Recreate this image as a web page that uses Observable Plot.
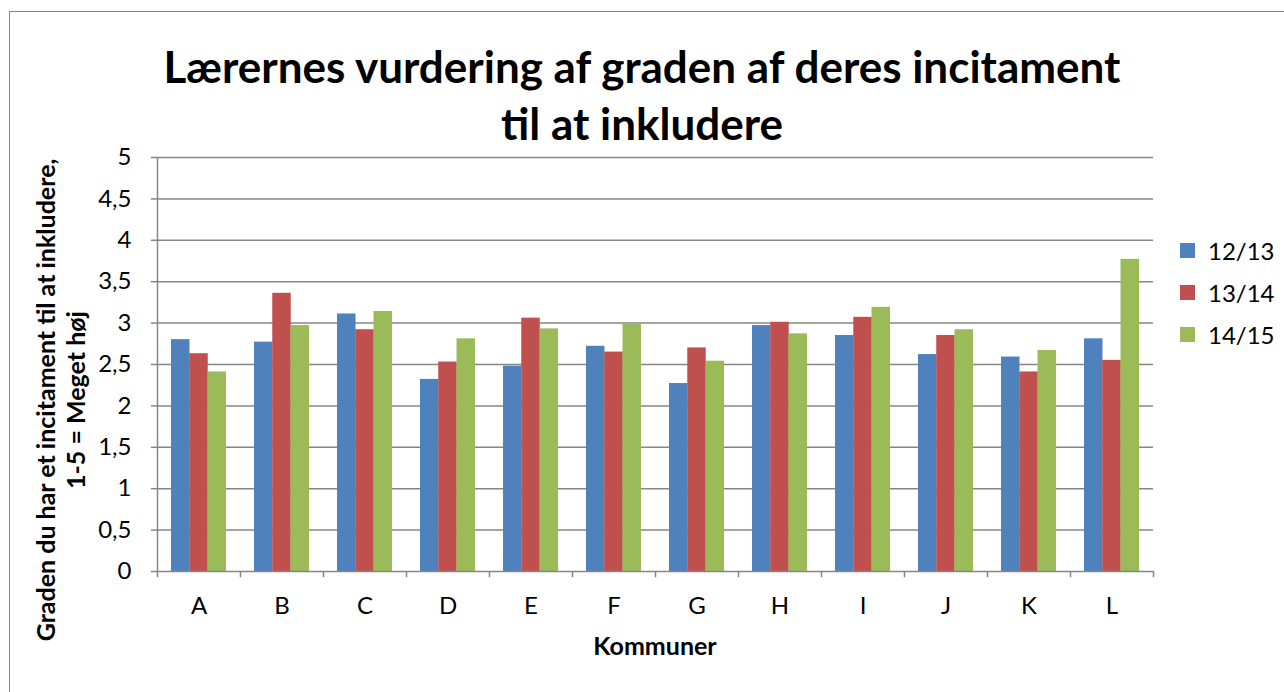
<!DOCTYPE html>
<html>
<head>
<meta charset="utf-8">
<script src="https://cdn.jsdelivr.net/npm/d3@7"></script>
<script src="https://cdn.jsdelivr.net/npm/@observablehq/plot@0.6"></script>
<style>
  html, body { margin: 0; padding: 0; background: #fff; }
  #wrap { position: relative; width: 1284px; height: 692px; overflow: hidden; font-family: Lato, "Open Sans", sans-serif; }
  #border { position: absolute; left: 9px; top: 11px; width: 1300px; height: 700px; border: 1.5px solid #868686; box-sizing: border-box; }
  #title { position: absolute; left: 0; width: 1284px; top: 38px; text-align: center; font-weight: bold; font-size: 44px; line-height: 57px; color: #000; }
  #ylabel { position: absolute; left: 60px; top: 400px; transform: translate(-50%, -50%) rotate(-90deg); text-align: center; font-weight: bold; font-size: 25px; line-height: 30px; white-space: nowrap; }
  #xlabel { position: absolute; left: 655px; top: 645px; transform: translate(-50%, -50%); font-weight: bold; font-size: 25px; }
  #legend { position: absolute; left: 1180px; top: 229px; font-size: 24px; }
  .li { display: flex; align-items: center; height: 42px; }
  .sw { width: 15px; height: 15px; margin-right: 13px; }
  #chart { position: absolute; left: 0; top: 0; }
</style>
</head>
<body>
<div id="wrap">
  <div id="border"></div>
  <div id="chart"></div>
  <div id="title">Lærernes vurdering af graden af deres incitament<br>til at inkludere</div>
  <div id="ylabel">Graden du har et incitament til at inkludere,<br>1-5 = Meget høj</div>
  <div id="xlabel">Kommuner</div>
  <div id="legend"></div>
</div>
<script>
const kommuner = ["A","B","C","D","E","F","G","H","I","J","K","L"];
const serier = ["12/13","13/14","14/15"];
const farver = ["#4F81BD","#C0504D","#9BBB59"];
const v1213 = [2.80,2.77,3.11,2.32,2.48,2.72,2.27,2.97,2.85,2.62,2.59,2.81];
const v1314 = [2.63,3.36,2.92,2.53,3.06,2.65,2.70,3.01,3.07,2.85,2.41,2.55];
const v1415 = [2.41,2.97,3.14,2.81,2.93,2.99,2.54,2.87,3.19,2.92,2.67,3.77];
const yTicks = [0,0.5,1,1.5,2,2.5,3,3.5,4,4.5,5];

const values = [v1213, v1314, v1415];
const data = [];
serier.forEach((s, si) => kommuner.forEach((k, ki) => data.push({kommune: k, serie: s, value: values[si][ki]})));

const W = 1284, H = 692;
const mL = 157, mR = 1284 - 1153, mT = 157, mB = 692 - 571;
const step = (W - mL - mR) / kommuner.length;
const bandW = step * 0.66;
const barW = bandW / 3;
const inset = (bandW - barW) / 2;
const bandStart = mL + step * 0.17;
const grid = "#868686";
const fmt = d => String(d).replace(".", ",");

const marks = [
  Plot.ruleY(yTicks.filter(d => d > 0), {y: d => d, stroke: grid, strokeWidth: 1.5}),
  ...serier.map((s, si) => Plot.barY(data.filter(d => d.serie === s), {
    x: "kommune", y: "value", fill: farver[si],
    insetLeft: inset, insetRight: inset, dx: (si - 1) * barW
  })),
  // axes lines
  Plot.ruleY([0], {stroke: grid, strokeWidth: 1.5}),
  Plot.ruleX([kommuner[0]], {x: d => d, y1: 0, y2: 5, dx: -step / 2, stroke: grid, strokeWidth: 1.5}),
  // y tick marks (left of the axis)
  Plot.tickY(yTicks, {y: d => d, x: () => kommuner[0], dx: -(bandStart - (mL - 6)), insetRight: bandW - 6, stroke: grid, strokeWidth: 1.5}),
  // x boundary tick marks
  Plot.ruleX(kommuner, {x: d => d, y1: 0, y2: -0.075, dx: -step / 2, stroke: grid, strokeWidth: 1.5}),
  Plot.ruleX([kommuner[kommuner.length - 1]], {x: d => d, y1: 0, y2: -0.075, dx: step / 2, stroke: grid, strokeWidth: 1.5}),
  // y labels
  Plot.text(yTicks, {y: d => d, text: d => fmt(d), frameAnchor: "left", dx: -26, textAnchor: "end", fontSize: 24, fill: "#000"}),
  // x labels
  Plot.text(kommuner, {x: d => d, y: 0, text: d => d, dy: 35, fontSize: 24, fill: "#000"})
];

const chart = Plot.plot({
  width: W, height: H,
  marginLeft: mL, marginRight: mR, marginTop: mT, marginBottom: mB,
  style: {fontFamily: "Lato, 'Open Sans', sans-serif", background: "transparent", overflow: "visible"},
  x: {domain: kommuner, paddingInner: 0.34, paddingOuter: 0.17, axis: null},
  y: {domain: [0, 5], axis: null},
  marks
});
document.getElementById("chart").appendChild(chart);

// legend
const leg = document.getElementById("legend");
serier.forEach((s, i) => {
  const row = document.createElement("div");
  row.className = "li";
  row.innerHTML = `<span class="sw" style="background:${farver[i]}"></span><span>${s}</span>`;
  leg.appendChild(row);
});
</script>
</body>
</html>
